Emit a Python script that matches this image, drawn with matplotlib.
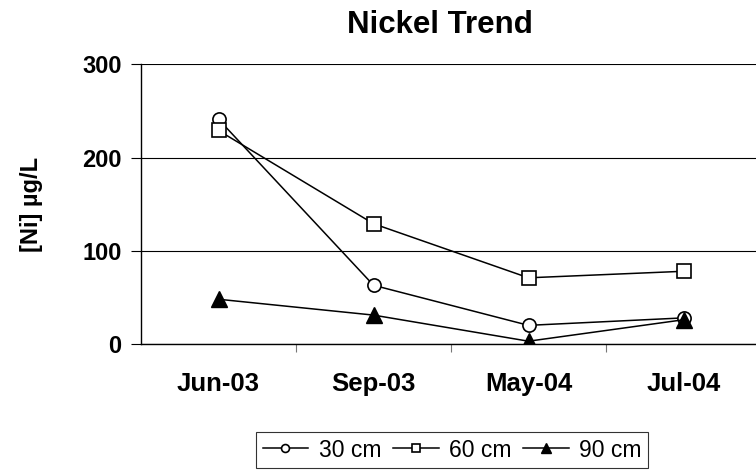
import matplotlib.pyplot as plt

plt.rcParams['font.family'] = ['Liberation Sans', 'DejaVu Sans']

dates = ['Jun-03', 'Sep-03', 'May-04', 'Jul-04']
ni_30cm = [241, 63, 20, 28]
ni_60cm = [229, 129, 71, 78]
ni_90cm = [48, 31, 3, 26]

fig = plt.figure(figsize=(7.56, 4.73), dpi=100)
ax = fig.add_axes([141/756, 1 - 344/473, 620/756, (344 - 64.3)/473])

x = range(len(dates))
ax.plot(x, ni_30cm, 'k-', marker='o', markersize=9.5, markerfacecolor='white',
        markeredgewidth=1.2, linewidth=1.1, label='30 cm')
ax.plot(x, ni_60cm, 'k-', marker='s', markersize=9.5, markerfacecolor='white',
        markeredgewidth=1.2, linewidth=1.1, label='60 cm')
ax.plot(x, ni_90cm, 'k-', marker='^', markersize=11, markerfacecolor='black',
        linewidth=1.1, label='90 cm')

ax.set_xlim(-0.5, 3.5)
ax.set_ylim(0, 300)
ax.set_yticks([0, 100, 200, 300])
ax.yaxis.grid(True, color='black', linewidth=0.8)
ax.set_axisbelow(True)
for s in ['top', 'right']:
    ax.spines[s].set_visible(False)
ax.spines['left'].set_linewidth(1.0)
ax.spines['bottom'].set_linewidth(1.0)
ax.tick_params(axis='y', length=7, width=0.8, pad=7, labelsize=17)

ax.set_xticks(list(x))
ax.set_xticklabels(dates, fontsize=18.5, fontweight='bold')
ax.tick_params(axis='x', length=0, pad=20)
ax.set_xticks([0.5, 1.5, 2.5, 3.5], minor=True)
ax.tick_params(axis='x', which='minor', length=6, width=0.8, color='#777777')
for lbl in ax.get_yticklabels():
    lbl.set_fontweight('bold')

ax.set_ylabel('[Ni] µg/L', fontsize=17, fontweight='bold', labelpad=28)
fig.text(440/756, 1 - 25/473, 'Nickel Trend', fontsize=22.5, fontweight='bold',
         ha='center', va='center')

leg = fig.legend(loc='center', bbox_to_anchor=(452/756, 23/473), ncol=3,
                 fontsize=16.5, frameon=True, fancybox=False, handlelength=2.0,
                 handletextpad=0.45, columnspacing=0.5, borderpad=0.3,
                 borderaxespad=0, markerscale=0.6, edgecolor='black')
leg.get_frame().set_linewidth(0.8)

fig.savefig('out.png', dpi=100)
